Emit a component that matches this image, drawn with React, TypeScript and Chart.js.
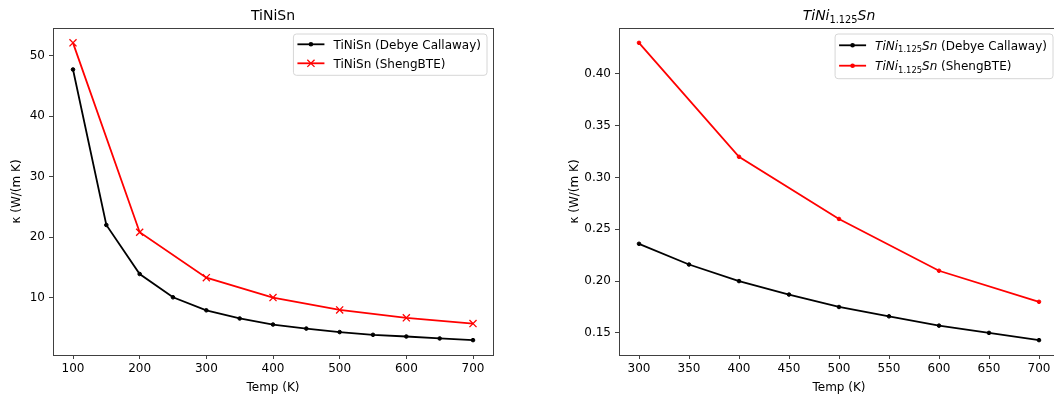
import React, { useEffect, useRef } from "react";
import { Chart, registerables } from "chart.js";

Chart.register(...registerables);

// ---------- data ----------
const tempDebyeTiNiSn = [100, 150, 200, 250, 300, 350, 400, 450, 500, 550, 600, 650, 700];
const kappaDebyeTiNiSn = [47.7, 22.0, 13.9, 10.05, 7.9, 6.55, 5.55, 4.88, 4.3, 3.85, 3.57, 3.25, 2.97];
const tempShengTiNiSn = [100, 200, 300, 400, 500, 600, 700];
const kappaShengTiNiSn = [52.1, 20.8, 13.3, 10.0, 7.97, 6.65, 5.71];

const tempDebyeDoped = [300, 350, 400, 450, 500, 550, 600, 650, 700];
const kappaDebyeDoped = [0.236, 0.216, 0.2, 0.187, 0.175, 0.166, 0.157, 0.15, 0.143];
const tempShengDoped = [300, 400, 500, 600, 700];
const kappaShengDoped = [0.43, 0.32, 0.26, 0.21, 0.18];

const xTicksLeft = [100, 200, 300, 400, 500, 600, 700];
const yTicksLeft = [10, 20, 30, 40, 50];
const xTicksRight = [300, 350, 400, 450, 500, 550, 600, 650, 700];
const yTicksRight = [0.15, 0.2, 0.25, 0.3, 0.35, 0.4];

const xAxisLabel = "Temp (K)";
const yAxisLabel = "κ (W/(m K)";

type Seg = { t: string; it?: boolean; sub?: boolean };
const titleLeft: Seg[] = [{ t: "TiNiSn" }];
const titleRight: Seg[] = [{ t: "TiNi", it: true }, { t: "1.125", sub: true }, { t: "Sn", it: true }];
const legendLeft: Seg[][] = [
  [{ t: "TiNiSn (Debye Callaway)" }],
  [{ t: "TiNiSn (ShengBTE)" }],
];
const legendRight: Seg[][] = [
  [{ t: "TiNi", it: true }, { t: "1.125", sub: true }, { t: "Sn", it: true }, { t: " (Debye Callaway)" }],
  [{ t: "TiNi", it: true }, { t: "1.125", sub: true }, { t: "Sn", it: true }, { t: " (ShengBTE)" }],
];

// ---------- styling ----------
const FONT = "'DejaVu Sans', sans-serif";
const BLACK = "#000000";
const RED = "#ff0000";
const SPINE = "#404040";

function segFont(size: number, s: Seg) {
  const sz = s.sub ? size * 0.7 : size;
  return `${s.it ? "italic " : ""}${sz}px ${FONT}`;
}
function measureSegs(ctx: CanvasRenderingContext2D, segs: Seg[], size: number) {
  let w = 0;
  for (const s of segs) {
    ctx.font = segFont(size, s);
    w += ctx.measureText(s.t).width;
  }
  return w;
}
function drawSegs(ctx: CanvasRenderingContext2D, segs: Seg[], x: number, baseline: number, size: number) {
  ctx.textAlign = "left";
  ctx.textBaseline = "alphabetic";
  for (const s of segs) {
    ctx.font = segFont(size, s);
    ctx.fillText(s.t, x, s.sub ? baseline + size * 0.2 : baseline);
    x += ctx.measureText(s.t).width;
  }
}

function padRange(vals: number[]) {
  const mn = Math.min(...vals);
  const mx = Math.max(...vals);
  const m = (mx - mn) * 0.05;
  return [mn - m, mx + m];
}

type Marker = "dot" | "x";
interface PanelSpec {
  series: { xs: number[]; ys: number[]; color: string; marker: Marker }[];
  xTicks: number[];
  yTicks: number[];
  yFmt: (v: number) => string;
  title: Seg[];
  legend: Seg[][];
  legendRowH: number;
  legendFirst: number;
  legendBottom: number;
  yScaleWidth: number;
  yTitleOffset: number;
  padRight: number;
}

function markerDrawSample(ctx: CanvasRenderingContext2D, marker: Marker, color: string, x: number, y: number) {
  ctx.save();
  ctx.strokeStyle = color;
  ctx.fillStyle = color;
  if (marker === "dot") {
    ctx.beginPath();
    ctx.arc(x, y, 2.3, 0, Math.PI * 2);
    ctx.fill();
  } else {
    ctx.lineWidth = 1.3;
    const r = 3.6;
    ctx.beginPath();
    ctx.moveTo(x - r, y - r);
    ctx.lineTo(x + r, y + r);
    ctx.moveTo(x - r, y + r);
    ctx.lineTo(x + r, y - r);
    ctx.stroke();
  }
  ctx.restore();
}

function decorPlugin(spec: PanelSpec) {
  return {
    id: "mplDecor",
    afterDatasetsDraw(chart: any) {
      const ctx: CanvasRenderingContext2D = chart.ctx;
      const a = chart.chartArea;
      ctx.save();
      // frame
      ctx.strokeStyle = SPINE;
      ctx.lineWidth = 1;
      ctx.strokeRect(Math.round(a.left) + 0.5, Math.round(a.top) + 0.5, Math.round(a.right - a.left), Math.round(a.bottom - a.top));
      // title
      ctx.fillStyle = "#000";
      const tw = measureSegs(ctx, spec.title, 14);
      drawSegs(ctx, spec.title, (a.left + a.right) / 2 - tw / 2, 20.3, 14);
      // legend
      const size = 12;
      let maxW = 0;
      for (const row of spec.legend) maxW = Math.max(maxW, measureSegs(ctx, row, size));
      const boxW = 40 + maxW + 6;
      const right = a.right - 6;
      const left = right - boxW;
      const top = a.top + 6;
      const lastRowY = top + spec.legendFirst + spec.legendRowH * (spec.legend.length - 1);
      const bottom = lastRowY + spec.legendBottom;
      const r = 3;
      ctx.beginPath();
      ctx.moveTo(left + r, top);
      ctx.lineTo(right - r, top);
      ctx.arcTo(right, top, right, top + r, r);
      ctx.lineTo(right, bottom - r);
      ctx.arcTo(right, bottom, right - r, bottom, r);
      ctx.lineTo(left + r, bottom);
      ctx.arcTo(left, bottom, left, bottom - r, r);
      ctx.lineTo(left, top + r);
      ctx.arcTo(left, top, left + r, top, r);
      ctx.closePath();
      ctx.fillStyle = "rgba(255,255,255,0.8)";
      ctx.fill();
      ctx.strokeStyle = "#d6d6d6";
      ctx.lineWidth = 1;
      ctx.stroke();
      spec.legend.forEach((row, i) => {
        const y = top + spec.legendFirst + spec.legendRowH * i;
        const s = spec.series[i];
        ctx.strokeStyle = s.color;
        ctx.lineWidth = 1.8;
        ctx.beginPath();
        ctx.moveTo(left + 4, y);
        ctx.lineTo(left + 31, y);
        ctx.stroke();
        markerDrawSample(ctx, s.marker, s.color, left + 17.5, y);
        ctx.fillStyle = "#000";
        drawSegs(ctx, row, left + 40, y + 4.4, size);
      });
      ctx.restore();
    },
  };
}

function makeConfig(spec: PanelSpec): any {
  const allX = spec.series.flatMap((s) => s.xs);
  const allY = spec.series.flatMap((s) => s.ys);
  const [xMin, xMax] = padRange(allX);
  const [yMin, yMax] = padRange(allY);
  const tickFont = { family: FONT, size: 12 };
  return {
    type: "line",
    data: {
      datasets: spec.series.map((s) => ({
        data: s.xs.map((x, i) => ({ x, y: s.ys[i] })),
        borderColor: s.color,
        backgroundColor: s.color,
        borderWidth: 1.8,
        tension: 0,
        fill: false,
        pointStyle: s.marker === "dot" ? "circle" : "crossRot",
        pointRadius: s.marker === "dot" ? 1.8 : 5,
        pointBorderWidth: s.marker === "dot" ? 1 : 1.3,
        pointBackgroundColor: s.color,
        pointBorderColor: s.color,
        pointHoverRadius: 0,
      })),
    },
    options: {
      animation: false,
      responsive: false,
      devicePixelRatio: 1,
      events: [],
      layout: { padding: { top: 28, left: 0, right: spec.padRight, bottom: 0 } },
      plugins: { legend: { display: false }, title: { display: false }, tooltip: { enabled: false } },
      scales: {
        x: {
          type: "linear",
          min: xMin,
          max: xMax,
          afterBuildTicks: (sc: any) => {
            sc.ticks = spec.xTicks.map((v) => ({ value: v }));
          },
          afterFit: (sc: any) => {
            sc.height = 46;
          },
          border: { display: false },
          grid: { drawOnChartArea: false, drawTicks: true, tickLength: 4, tickColor: SPINE, tickWidth: 1 },
          ticks: { font: tickFont, color: "#000", padding: 3, autoSkip: false, maxRotation: 0, callback: (v: number) => String(v) },
          title: { display: true, text: xAxisLabel, font: tickFont, color: "#000", padding: { top: 0, bottom: 6 } },
        },
        y: {
          type: "linear",
          min: yMin,
          max: yMax,
          afterBuildTicks: (sc: any) => {
            sc.ticks = spec.yTicks.map((v) => ({ value: v }));
          },
          afterFit: (sc: any) => {
            sc.width = spec.yScaleWidth;
          },
          border: { display: false },
          grid: { drawOnChartArea: false, drawTicks: true, tickLength: 4, tickColor: SPINE, tickWidth: 1 },
          ticks: { font: tickFont, color: "#000", padding: 4, autoSkip: false, callback: (v: number) => spec.yFmt(v) },
          title: { display: true, text: yAxisLabel, font: tickFont, color: "#000", padding: { top: spec.yTitleOffset - 7.2, bottom: 0 } },
        },
      },
    },
    plugins: [decorPlugin(spec)],
  };
}

const leftSpec: PanelSpec = {
  series: [
    { xs: tempDebyeTiNiSn, ys: kappaDebyeTiNiSn, color: BLACK, marker: "dot" },
    { xs: tempShengTiNiSn, ys: kappaShengTiNiSn, color: RED, marker: "x" },
  ],
  xTicks: xTicksLeft,
  yTicks: yTicksLeft,
  yFmt: (v) => String(v),
  title: titleLeft,
  legend: legendLeft,
  legendRowH: 19,
  legendFirst: 10.3,
  legendBottom: 12,
  yScaleWidth: 53,
  yTitleOffset: 17,
  padRight: 34,
};

const rightSpec: PanelSpec = {
  series: [
    { xs: tempDebyeDoped, ys: kappaDebyeDoped, color: BLACK, marker: "dot" },
    { xs: tempShengDoped, ys: kappaShengDoped, color: RED, marker: "dot" },
  ],
  xTicks: xTicksRight,
  yTicks: yTicksRight,
  yFmt: (v) => v.toFixed(2),
  title: titleRight,
  legend: legendRight,
  legendRowH: 20.4,
  legendFirst: 11.3,
  legendBottom: 13,
  yScaleWidth: 92,
  yTitleOffset: 48,
  padRight: 28,
};

function Panel({ spec, left, width }: { spec: PanelSpec; left: number; width: number }) {
  const ref = useRef<HTMLCanvasElement>(null);
  useEffect(() => {
    if (!ref.current) return;
    const chart = new Chart(ref.current, makeConfig(spec));
    return () => chart.destroy();
  }, [spec]);
  return (
    <canvas
      ref={ref}
      width={width}
      height={401}
      style={{ position: "absolute", left, top: 0, width, height: 401, display: "block" }}
    />
  );
}

export default function App() {
  return (
    <div style={{ position: "fixed", left: 0, top: 0, width: 1054, height: 401, overflow: "hidden", background: "#ffffff" }}>
      <Panel spec={leftSpec} left={0} width={527} />
      <Panel spec={rightSpec} left={527} width={560} />
    </div>
  );
}
